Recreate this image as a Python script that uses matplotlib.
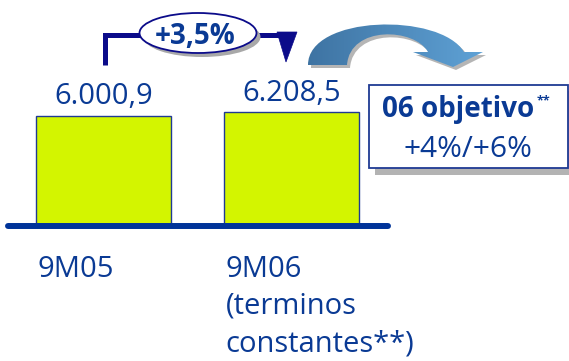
import matplotlib
matplotlib.use("Agg")
import matplotlib.pyplot as plt
from matplotlib.patches import Ellipse, Rectangle, Polygon, PathPatch
from matplotlib.path import Path
from matplotlib.colors import LinearSegmentedColormap
import numpy as np

# --- data -------------------------------------------------------------
categories = ["9M05", "9M06\n(terminos\nconstantes**)"]
values = [6000.9, 6208.5]
growth_label = "+3,5%"
target_title = "06 objetivo"
target_range = "+4%/+6%"

NAVY = "#0A3A94"
DARK = "#0B0B8A"
LIME = "#D3F500"
FONT = ["Open Sans", "DejaVu Sans"]

W, H = 569, 361
fig = plt.figure(figsize=(W / 100, H / 100), dpi=100)
fig.patch.set_facecolor("white")


def es_number(v):
    s = f"{v:,.1f}"
    return s.replace(",", "X").replace(".", ",").replace("X", ".")


# --- bar axes -----------------------------------------------------------
base_px = 224          # zero line, pixels from top
spacing = 187.8        # pixels between bar centres
first_c = 103.5        # centre of first bar in pixels
bar_w = 0.716
ax = fig.add_axes([0, (H - base_px) / H, 1, base_px / H])
ax.set_xlim(-first_c / spacing, (W - first_c) / spacing)
ax.set_ylim(0, 12400)
ax.axis("off")

x = np.arange(len(values))
ax.bar(x, values, width=bar_w, color=LIME, edgecolor="#1F3A93",
       linewidth=1.0, zorder=2)

for i, v in enumerate(values):
    ax.annotate(es_number(v), xy=(i, v), xytext=(0, 8),
                textcoords="offset points", ha="center", va="baseline",
                fontsize=21, color=NAVY, family=FONT, zorder=5)

for i, c in enumerate(categories):
    ax.annotate(c, xy=(i - bar_w / 2, 0), xytext=(1, -22),
                textcoords="offset points", ha="left", va="top",
                fontsize=21, color=NAVY, family=FONT, linespacing=1.38,
                annotation_clip=False)

# --- overlay in pixel coordinates for the decorations -----------------
ov = fig.add_axes([0, 0, 1, 1], facecolor="none")
ov.set_xlim(0, W)
ov.set_ylim(H, 0)
ov.axis("off")

# baseline
ov.plot([8, 388], [226, 226], color="#003399", lw=4.3,
        solid_capstyle="round", zorder=3)

# bracket connecting the two bars
ov.plot([105, 105, 145], [65, 35, 35], color=DARK, lw=3.6,
        solid_capstyle="butt", solid_joinstyle="miter", zorder=3)
ov.plot([250, 282], [35, 35], color=DARK, lw=3.6,
        solid_capstyle="butt", zorder=3)
ov.add_patch(Polygon([[277, 32], [297, 32], [286, 62]], closed=True,
                     facecolor=DARK, edgecolor=DARK, lw=0.5, zorder=3))

# growth ellipse
ov.add_patch(Ellipse((202, 37), 117, 40, facecolor="#A8A8A8",
                     edgecolor="none", zorder=4))
ov.add_patch(Ellipse((198, 33), 117, 40, facecolor="white",
                     edgecolor=DARK, lw=1.3, zorder=5))
ov.text(195, 44, growth_label, ha="center", va="baseline", fontsize=20,
        fontweight="bold", color=NAVY, family=FONT, zorder=6)

# curved arrow pointing to the target box
verts = [(308, 65), (308, 15), (440, 12), (464, 52),
         (483, 52), (453, 67), (413, 52), (428, 52),
         (415, 28), (350, 25), (347, 65), (308, 65)]
codes = [Path.MOVETO, Path.CURVE4, Path.CURVE4, Path.CURVE4,
         Path.LINETO, Path.LINETO, Path.LINETO, Path.LINETO,
         Path.CURVE4, Path.CURVE4, Path.CURVE4, Path.CLOSEPOLY]
arrow_path = Path(verts, codes)
shadow_path = Path([(a + 3, b + 3) for a, b in verts], codes)
ov.add_patch(PathPatch(shadow_path, facecolor="#B5B5B5", edgecolor="none",
                       zorder=3))
arrow = PathPatch(arrow_path, facecolor="none", edgecolor="none", zorder=4)
ov.add_patch(arrow)
cmap = LinearSegmentedColormap.from_list("arr", ["#3E73A2", "#5FA2D6"])
grad = np.linspace(0, 1, 256).reshape(1, -1)
img = ov.imshow(grad, cmap=cmap, extent=[306, 485, 70, 10], aspect="auto",
                zorder=4, interpolation="bilinear")
img.set_clip_path(arrow)
ov.set_xlim(0, W)
ov.set_ylim(H, 0)

# target box with drop shadow
ov.add_patch(Rectangle((375, 91), 200, 84, facecolor="#B3B3B3",
                       edgecolor="none", zorder=3))
ov.add_patch(Rectangle((369, 85), 199, 83, facecolor="white",
                       edgecolor="#1F3A93", lw=1.3, zorder=4))
title = ov.text(382, 117, target_title, ha="left", va="baseline",
                fontsize=20, fontweight="bold", color=NAVY, family=FONT,
                zorder=5)
ov.annotate("**", xy=(1, 104), xycoords=(title, "data"), xytext=(2, 0),
            textcoords="offset points", ha="left", va="baseline",
            fontsize=9, fontweight="bold", color=NAVY, family=FONT, zorder=5)
ov.text(404, 157, target_range, ha="left", va="baseline", fontsize=21.5,
        color=NAVY, family=FONT, zorder=5)

fig.savefig("out.png", dpi=100, facecolor="white")
